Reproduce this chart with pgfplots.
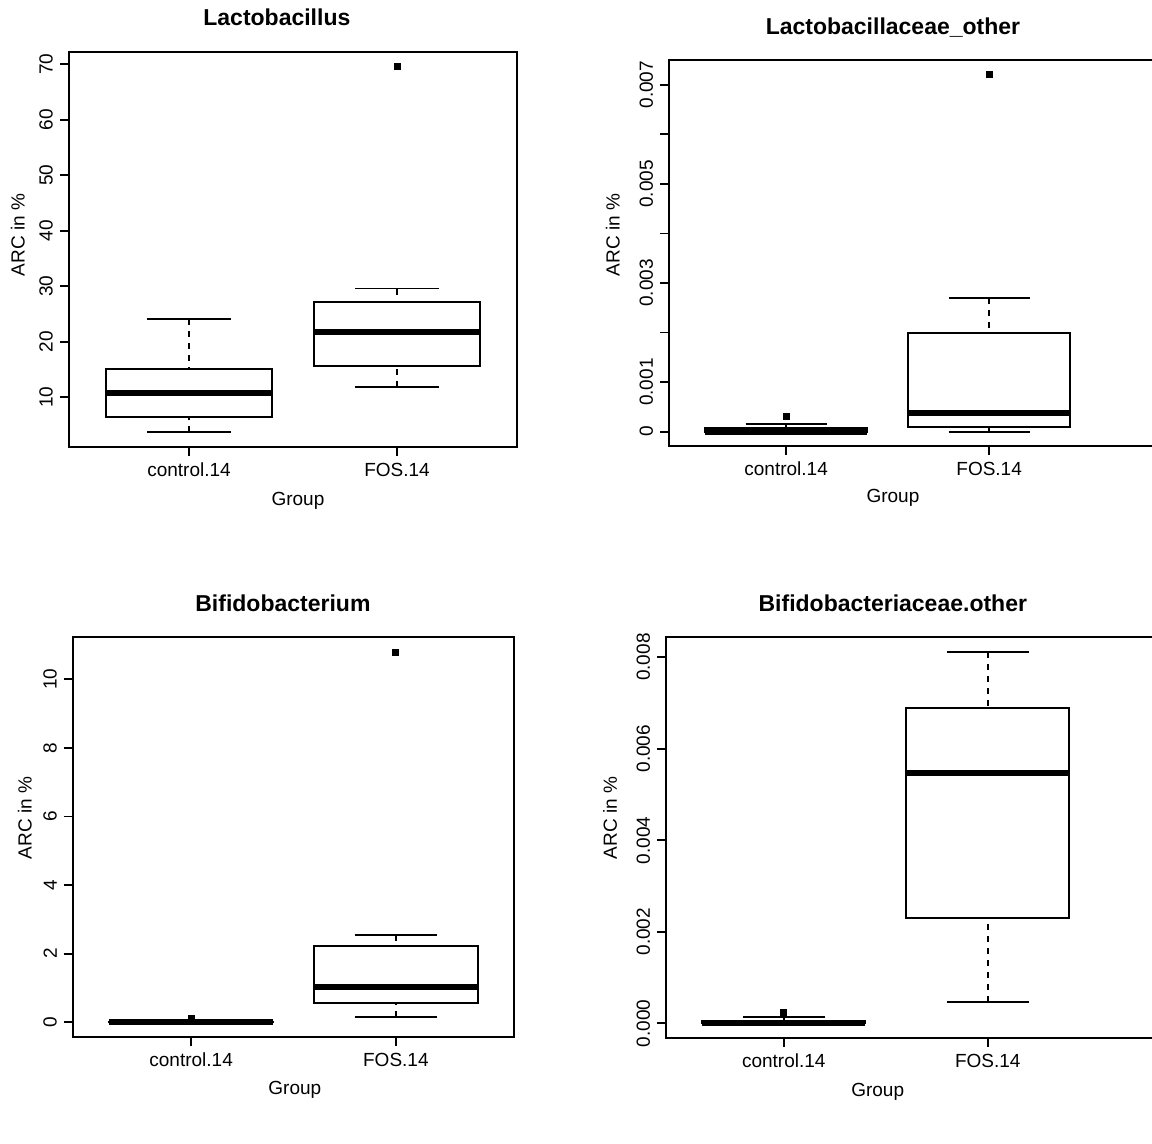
\documentclass[border=0pt]{standalone}
\usepackage{fontspec}
\setmainfont{Liberation Sans}
\usepackage{pgfplots}
\pgfplotsset{compat=1.18}
\usepgfplotslibrary{statistics}

\pgfplotsset{
  rbox/.style={
    scale only axis,
    xmin=0.423,
    xtick={1,2}, xticklabels={control.14,FOS.14},
    tick align=outside, tick pos=left,
    major tick length=4.5pt,
    every tick/.style={black, line width=0.9pt},
    axis line style={line width=1.1pt},
    tick label style={font=\fontsize{9.5}{11}\selectfont},
    label style={font=\fontsize{9.5}{11}\selectfont},
    title style={font=\fontsize{11.5}{13}\selectfont\bfseries, anchor=base},
    yticklabel style={rotate=90, anchor=south},
    scaled y ticks=false,
    xlabel={Group}, ylabel={ARC in \%},
    boxplot/draw direction=y,
    boxplot/box extend=0.8,
    boxplot/whisker extend=0.4,
    boxplot/every box/.style={draw=black, fill=white, line width=1pt},
    boxplot/every median/.style={draw=black, line width=2.8pt},
    boxplot/draw/lower whisker/.code={%
      \draw[black, line width=0.9pt, dash pattern=on 3pt off 3pt]
        (boxplot box cs:\pgfplotsboxplotvalue{lower whisker},0.5) -- (boxplot box cs:\pgfplotsboxplotvalue{lower quartile},0.5);
      \draw[black, line width=0.9pt]
        (boxplot whisker cs:\pgfplotsboxplotvalue{lower whisker},0) -- (boxplot whisker cs:\pgfplotsboxplotvalue{lower whisker},1);
    },
    boxplot/draw/upper whisker/.code={%
      \draw[black, line width=0.9pt, dash pattern=on 3pt off 3pt]
        (boxplot box cs:\pgfplotsboxplotvalue{upper whisker},0.5) -- (boxplot box cs:\pgfplotsboxplotvalue{upper quartile},0.5);
      \draw[black, line width=0.9pt]
        (boxplot whisker cs:\pgfplotsboxplotvalue{upper whisker},0) -- (boxplot whisker cs:\pgfplotsboxplotvalue{upper whisker},1);
    },
  },
  rplot/.style={black, solid, mark=square*, mark size=1.5pt, mark options={fill=black, draw=black}},
}

\begin{document}
\begin{tikzpicture}
% Panel 1
\begin{axis}[rbox, at={(34.5pt,348.5pt)}, anchor=south west,
  width=224pt, height=197.5pt, xmax=2.577, ymin=1.06, ymax=72.2,
  ytick={10,20,30,40,50,60,70}, yticklabels={10,20,30,40,50,60,70},
  title={Lactobacillus}, title style={at={(axis description cs:0.464,1)}, yshift=7pt},
  xlabel style={at={(axis description cs:0.511,0)}, anchor=base, yshift=-29.5pt},
  ylabel style={at={(axis description cs:-0.114,0.537)}, anchor=center}]
\addplot[rplot, boxplot prepared={draw position=1, lower whisker=3.7, lower quartile=6.4, median=10.8, upper quartile=15.1, upper whisker=24.1}] coordinates {};
\addplot[rplot, boxplot prepared={draw position=2, lower whisker=11.9, lower quartile=15.7, median=21.8, upper quartile=27.2, upper whisker=29.6}] table[row sep=\\, y index=0] {v\\ 69.6\\};
\end{axis}
% Panel 2
\begin{axis}[rbox, at={(334.5pt,349pt)}, anchor=south west,
  width=250.5pt, height=193pt, xmax=2.891, ymin=-0.000288, ymax=0.0075,
  ytick={0,0.001,0.002,0.003,0.004,0.005,0.006,0.007}, yticklabels={0,0.001,,0.003,,0.005,,0.007},
  title={Lactobacillaceae\_other}, title style={at={(axis description cs:0.447,1)}, yshift=6.5pt},
  xlabel style={at={(axis description cs:0.447,0)}, anchor=base, yshift=-28.5pt},
  ylabel style={at={(axis description cs:-0.112,0.547)}, anchor=center}]
\addplot[rplot, boxplot prepared={draw position=1, lower whisker=0, lower quartile=0, median=0, upper quartile=0.00008, upper whisker=0.00016}] table[row sep=\\, y index=0] {v\\ 0.0003\\};
\addplot[rplot, boxplot prepared={draw position=2, lower whisker=0, lower quartile=0.0001, median=0.00038, upper quartile=0.00199, upper whisker=0.00269}] table[row sep=\\, y index=0] {v\\ 0.00721\\};
\end{axis}
% Panel 3
\begin{axis}[rbox, at={(36.5pt,53.5pt)}, anchor=south west,
  width=220.5pt, height=200pt, xmax=2.577, ymin=-0.43, ymax=11.23,
  ytick={0,2,4,6,8,10}, yticklabels={0,2,4,6,8,10},
  title={Bifidobacterium}, title style={at={(axis description cs:0.476,1)}, yshift=6.7pt},
  xlabel style={at={(axis description cs:0.503,0)}, anchor=base, yshift=-29pt},
  ylabel style={at={(axis description cs:-0.109,0.5475)}, anchor=center}]
\addplot[rplot, boxplot prepared={draw position=1, lower whisker=0, lower quartile=0, median=0, upper quartile=0.01, upper whisker=0.02}] table[row sep=\\, y index=0] {v\\ 0.1\\};
\addplot[rplot, boxplot prepared={draw position=2, lower whisker=0.146, lower quartile=0.575, median=1.03, upper quartile=2.22, upper whisker=2.54}] table[row sep=\\, y index=0] {v\\ 10.79\\};
\end{axis}
% Panel 4
\begin{axis}[rbox, at={(333pt,53pt)}, anchor=south west,
  width=252pt, height=200.5pt, xmax=2.893, ymin=-0.00032, ymax=0.00844,
  ytick={0,0.002,0.004,0.006,0.008}, yticklabels={0.000,0.002,0.004,0.006,0.008},
  title={Bifidobacteriaceae.other}, title style={at={(axis description cs:0.45,1)}, yshift=6.5pt},
  xlabel style={at={(axis description cs:0.42,0)}, anchor=base, yshift=-29.3pt},
  ylabel style={at={(axis description cs:-0.111,0.549)}, anchor=center}]
\addplot[rplot, boxplot prepared={draw position=1, lower whisker=0, lower quartile=0, median=0.00001, upper quartile=0.00005, upper whisker=0.000145}] table[row sep=\\, y index=0] {v\\ 0.00023\\};
\addplot[rplot, boxplot prepared={draw position=2, lower whisker=0.000466, lower quartile=0.002295, median=0.00547, upper quartile=0.00689, upper whisker=0.00811}] coordinates {};
\end{axis}
\pgfresetboundingbox
\path[use as bounding box] (0,0) rectangle (576pt,572pt);
\end{tikzpicture}
\end{document}
